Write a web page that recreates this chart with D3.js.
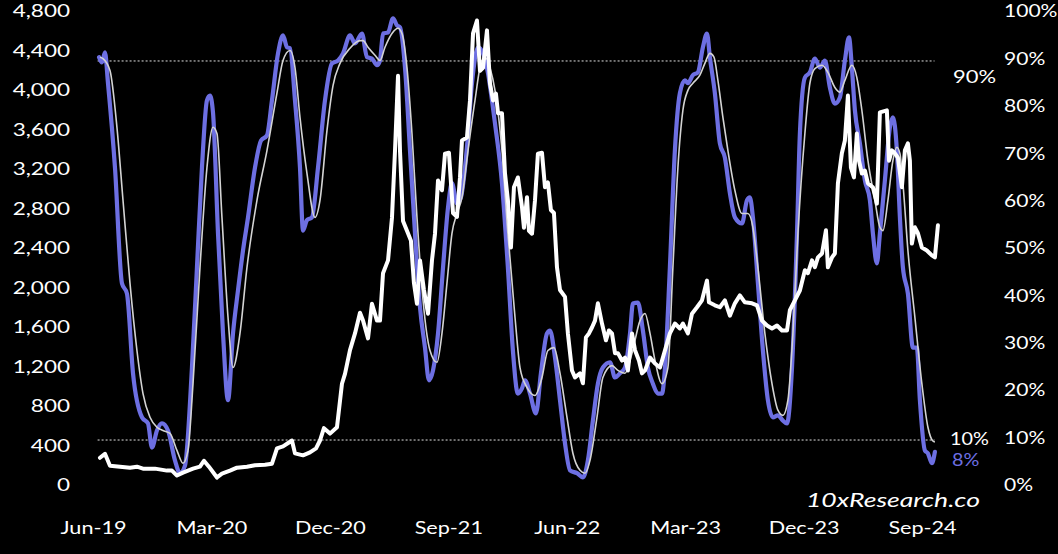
<!DOCTYPE html>
<html><head><meta charset="utf-8">
<script src="https://cdn.jsdelivr.net/npm/d3@7"></script>
<style>html,body{margin:0;padding:0;background:#000;}svg{display:block;}</style>
</head><body>
<svg id="chart" width="1058" height="554"></svg>
<script>
// ---- DATA (time in months since 1 Jun 2019) ----
const xTickMonths = [0, 9, 18, 27, 36, 45, 54, 63];
const xTickLabels = ["Jun-19","Mar-20","Dec-20","Sep-21","Jun-22","Mar-23","Dec-23","Sep-24"];
const leftTicks = [0,400,800,1200,1600,2000,2400,2800,3200,3600,4000,4400,4800];
const rightTicks = [0,10,20,30,40,50,60,70,80,90,100];

const priceT = [0.53,0.91,1.29,2.05,2.81,3.34,3.80,4.71,5.62,6.00,6.38,6.84,7.60,8.13,8.43,8.81,9.42,9.80,10.41,10.94,11.70,12.31,13.07,13.60,13.98,14.44,14.89,15.12,15.35,15.96,16.49,16.95,17.25,17.55,18.01,18.54,18.92,19.15,19.53,19.91,20.29,20.52,20.90,21.20,21.58,21.81,22.04,22.42,22.72,22.95,23.18,23.33,23.56,23.86,24.16,24.39,24.62,24.85,25.15,25.46,25.76,25.99,26.22,26.52,26.75,27.05,27.36,27.66,27.89,28.04,28.42,28.65,28.88,29.18,29.41,29.64,29.94,30.17,30.40,30.62,30.78,31.08,31.31,31.53,31.76,31.99,32.29,32.60,32.75,32.98,33.13,33.36,33.59,33.81,34.12,34.35,34.57,34.80,35.03,35.26,35.49,35.87,36.09,36.40,36.63,37.01,37.23,37.46,37.69,37.92,38.15,38.37,38.68,38.98,39.21,39.44,39.67,39.89,40.20,40.43,40.65,40.96,41.19,41.49,41.72,41.95,42.33,42.71,43.09,43.84,44.22,44.60,44.83,45.21,45.52,45.90,46.28,46.66,46.81,47.26,47.64,48.02,48.40,48.78,49.16,49.54,50.08,50.46,50.84,51.22,51.60,51.98,52.36,52.74,52.96,53.34,53.72,54.10,54.33,54.64,54.86,55.09,55.40,55.70,55.85,56.16,56.38,56.61,56.91,57.14,57.37,57.60,57.83,58.05,58.21,58.43,58.66,58.89,59.27,59.57,59.80,60.33,60.49,60.71,60.94,61.17,61.47,61.70,61.93,62.08,62.23,62.46,62.69,62.99,63.37,63.75,63.98,64.21];
const priceV = [300,340,220,210,200,210,190,190,170,170,120,150,190,210,270,210,100,140,170,200,210,225,230,240,395,415,455,475,345,325,355,395,475,600,545,610,1050,1150,1390,1560,1770,1690,1510,1860,1690,1690,2170,2300,2730,3410,4170,3410,2700,2600,2500,2070,1860,2300,2000,1760,2300,2570,3110,3010,3380,3390,2780,2740,3140,3515,3545,3920,4600,4730,4220,4250,4630,4090,3920,3990,3790,3790,3180,2910,2430,3040,3140,2840,2630,2940,2600,2570,2910,3380,3390,3040,3090,2810,2780,2230,2000,1930,1560,1185,1115,1155,1055,1520,1560,1620,1690,1865,1660,1490,1590,1560,1360,1360,1285,1315,1185,1560,1390,1285,1155,1185,1315,1255,1215,1560,1660,1610,1660,1560,1760,1825,1895,2095,1875,1845,1825,1895,1740,1865,1945,1875,1865,1845,1690,1640,1610,1640,1590,1590,1795,1895,1995,2200,2170,2300,2230,2330,2370,2605,2230,2330,2370,3080,3385,3515,3970,3240,3140,3585,3310,3180,3210,3080,3040,2875,3800,3820,3310,3415,3385,3340,3040,3415,3485,3310,2470,2635,2575,2430,2400,2350,2330,2655];

const blueT = [0.46,0.68,0.91,1.14,1.67,2.20,2.58,3.04,3.72,4.18,4.48,4.86,5.24,5.70,6.23,6.61,6.99,7.52,7.90,8.28,8.66,8.89,9.12,9.50,9.88,10.26,10.64,11.02,11.40,11.78,12.31,12.77,13.22,13.60,14.06,14.44,14.74,14.97,15.35,15.73,15.96,16.26,16.64,17.10,17.63,18.16,18.62,19.00,19.53,19.91,20.44,20.82,21.20,21.58,21.81,22.04,22.42,22.80,23.10,23.33,23.71,24.09,24.47,24.85,25.23,25.53,25.84,26.22,26.60,26.98,27.28,27.66,27.96,28.42,28.80,29.26,29.64,30.02,30.32,30.55,31.08,31.53,31.91,32.29,32.60,32.83,33.21,33.66,34.04,34.50,34.73,35.11,35.49,35.87,36.25,36.78,37.23,37.61,37.99,38.37,38.75,39.29,39.67,40.05,40.43,40.81,41.03,41.41,41.79,42.17,42.55,42.93,43.24,43.47,43.84,44.22,44.60,44.98,45.21,45.59,45.97,46.35,46.66,46.88,47.26,47.64,48.02,48.40,48.78,49.32,49.70,49.92,50.15,50.53,50.91,51.29,51.67,52.05,52.43,52.74,53.12,53.50,53.72,54.10,54.48,54.86,55.24,55.62,56.00,56.38,56.76,57.14,57.45,57.67,57.90,58.28,58.66,59.04,59.27,59.57,59.80,60.18,60.56,60.79,61.09,61.32,61.55,61.93,62.31,62.61,62.84,63.22,63.45,63.75,63.98];
const blueV = [90.8,89.7,91.8,85.3,67.5,43.1,40.9,24.1,14.8,13.5,8.4,12.0,13.5,12.0,5.7,3.0,4.6,25.3,46.4,67.5,81.7,82.7,79.1,53.6,32.5,18.4,32.5,41.6,50.0,57.0,67.5,73.2,74.3,81.7,91.6,95.4,92.9,92.7,81.7,67.5,54.2,56.4,57.0,67.5,81.7,89.5,90.1,91.6,95.4,93.7,95.8,90.8,90.5,89.1,90.1,95.8,96.0,99.0,97.5,97.1,88.6,71.1,53.6,38.0,29.5,22.6,24.7,32.5,46.4,59.1,64.2,59.9,61.2,71.8,85.3,92.9,91.6,87.4,81.7,76.8,64.2,46.4,28.9,19.8,20.9,22.6,19.8,15.6,24.1,32.5,33.1,27.4,18.4,9.3,3.6,3.0,2.1,5.7,14.1,21.9,25.3,26.4,23.2,24.1,25.3,32.5,38.8,39.0,33.1,25.3,21.9,19.8,19.8,25.3,46.4,71.1,83.2,85.9,85.3,87.0,87.6,92.9,95.8,90.8,83.2,72.6,69.6,62.1,57.0,55.7,60.6,61.2,57.0,43.1,28.9,18.4,14.8,15.2,14.1,13.5,25.3,53.6,74.7,86.5,87.6,90.5,88.6,90.1,84.4,81.0,82.3,90.1,95.0,88.6,79.6,72.6,64.8,60.6,53.6,47.3,53.6,64.8,76.0,78.1,71.1,57.0,46.4,40.9,29.5,29.5,18.4,7.8,7.2,5.1,7.5];

const greyT = [0.53,0.76,1.29,1.82,2.28,2.81,3.34,3.80,4.33,4.86,5.32,5.85,6.38,6.84,7.22,7.60,8.13,8.66,9.12,9.42,9.80,10.26,10.64,11.17,11.70,12.46,13.22,13.98,14.44,14.97,15.35,15.73,16.26,16.87,17.25,17.78,18.24,18.77,19.53,20.29,20.52,20.90,21.43,21.81,22.19,22.72,23.18,23.48,23.86,24.24,24.62,25.08,25.61,26.14,26.52,26.90,27.28,27.66,28.04,28.50,29.03,29.56,29.94,30.17,30.55,31.08,31.53,32.07,32.45,32.98,33.59,34.12,34.57,35.03,35.49,36.02,36.47,37.01,37.39,37.77,38.30,38.75,39.44,39.89,40.43,40.96,41.57,41.95,42.33,42.71,43.24,43.69,44.07,44.45,44.83,45.21,45.59,46.12,46.50,46.88,47.19,47.49,47.87,48.25,48.78,49.32,49.77,50.15,50.53,51.06,51.60,52.05,52.43,52.81,53.19,53.57,54.10,54.48,54.86,55.40,55.85,56.38,56.76,57.14,57.67,58.05,58.43,58.89,59.42,59.80,60.03,60.41,60.79,61.09,61.32,61.55,61.93,62.46,62.99,63.45,63.83,63.98];
const greyV = [90.8,90.5,88.0,76.0,60.6,43.1,28.9,19.8,14.8,12.7,12.0,11.4,7.8,5.1,7.8,21.9,46.4,67.5,76.0,74.7,57.0,35.9,25.3,32.5,46.4,60.6,71.1,83.2,90.1,92.2,88.6,78.1,66.3,57.0,60.6,75.3,84.8,89.5,92.7,94.3,94.3,92.9,91.2,90.1,92.9,95.8,96.9,95.8,88.6,74.7,57.0,39.5,28.9,26.4,32.5,43.1,53.6,57.8,61.2,71.1,81.7,90.1,90.5,88.6,83.8,71.1,53.6,35.9,25.3,21.1,19.4,23.2,28.9,29.5,24.1,14.8,7.2,3.6,3.0,5.7,14.8,23.2,25.7,24.7,24.1,28.3,35.2,36.7,32.5,26.8,21.9,25.3,46.4,67.5,79.6,83.8,85.3,87.0,89.5,91.6,90.8,85.9,78.1,71.1,62.7,57.8,57.8,54.9,46.4,32.5,21.9,16.3,15.2,18.4,32.5,53.6,74.7,85.3,88.4,89.1,87.6,84.4,83.4,85.9,89.1,86.5,79.6,69.0,60.6,54.9,54.2,60.6,69.0,71.8,70.5,64.2,50.0,35.9,21.9,12.7,9.8,9.6];

const refLevels = [90, 10];

// ---- CHART ----
const svg = d3.select("#chart");
svg.append("rect").attr("width",1058).attr("height",554).attr("fill","#000");

const FONT = "Lato, 'Open Sans', sans-serif";
const FS = "18px";

const x = d3.scaleLinear().domain([0, 63]).range([93, 922]);
const yL = d3.scaleLinear().domain([0, 4800]).range([487.4, 13.6]);
const yR = d3.scaleLinear().domain([0, 100]).range([487.4, 13.6]);

const BLUE = "#6d6fe2";

// reference dotted lines
svg.append("g").selectAll("line").data(refLevels).join("line")
  .attr("x1", x(0.35)).attr("x2", x(63.95))
  .attr("y1", d => yR(d)).attr("y2", d => yR(d))
  .attr("stroke", "#e0e0e0").attr("stroke-width", 1).attr("stroke-dasharray", "2,2");

// blue line
const blueData = blueT.map((t,i) => [t, blueV[i]]);
svg.append("path").datum(blueData)
  .attr("fill","none").attr("stroke", BLUE).attr("stroke-width", 4.2)
  .attr("stroke-linejoin","round").attr("stroke-linecap","round")
  .attr("d", d3.line().x(d => x(d[0])).y(d => yR(d[1])).curve(d3.curveMonotoneX));

// grey smoothed line
const greyData = greyT.map((t,i) => [t, greyV[i]]);
svg.append("path").datum(greyData)
  .attr("fill","none").attr("stroke", "#d4d4d4").attr("stroke-width", 1.6)
  .attr("stroke-linejoin","round")
  .attr("d", d3.line().x(d => x(d[0])).y(d => yR(d[1])).curve(d3.curveMonotoneX));

// white price line
const priceData = priceT.map((t,i) => [t, priceV[i]]);
svg.append("path").datum(priceData)
  .attr("fill","none").attr("stroke", "#ffffff").attr("stroke-width", 4)
  .attr("stroke-linejoin","round").attr("stroke-linecap","round")
  .attr("d", d3.line().x(d => x(d[0])).y(d => yL(d[1])));

// axes
function styleAxis(sx){
  return g => {
    g.select(".domain").remove();
    g.selectAll(".tick line").remove();
    g.selectAll("text").attr("fill","#fff").attr("font-family",FONT).attr("font-size",FS)
      .attr("transform", `scale(${sx},1)`);
  };
}
svg.append("g").attr("transform","translate(70,-2.5)")
  .call(d3.axisLeft(yL).tickValues(leftTicks).tickSize(0).tickPadding(0).tickFormat(d3.format(",")))
  .call(styleAxis(1.25));
svg.append("g").attr("transform","translate(1004,-2.5)")
  .call(d3.axisRight(yR).tickValues(rightTicks).tickSize(0).tickPadding(0).tickFormat(d => d + "%"))
  .call(styleAxis(1.17));
svg.append("g").attr("transform","translate(0,521)")
  .call(d3.axisBottom(x).tickValues(xTickMonths).tickSize(0).tickPadding(0).tickFormat((d,i) => xTickLabels[i]))
  .call(styleAxis(1.2));

// annotations
function label(txt, px, py, color, sx){
  svg.append("text").attr("transform", `translate(${px},${py}) scale(${sx},1)`)
    .attr("dy","0.35em").attr("text-anchor", "start")
    .attr("fill", color).attr("font-family", FONT).attr("font-size",FS).text(txt);
}
label("90%", 953, yR(90) + 16, "#fff", 1.22);
label("10%", 950, yR(10) - 1, "#fff", 1.1);
label(Math.round(blueV[blueV.length-1]) + "%", 952, yR(8) + 10, BLUE, 1.1);

svg.append("text").attr("transform", `translate(980,500) scale(1.4,1)`)
  .attr("dy","0.35em").attr("text-anchor","end")
  .attr("fill","#fff").attr("font-family",FONT).attr("font-style","italic").attr("font-size","19px")
  .text("10xResearch.co");
</script>
</body></html>
